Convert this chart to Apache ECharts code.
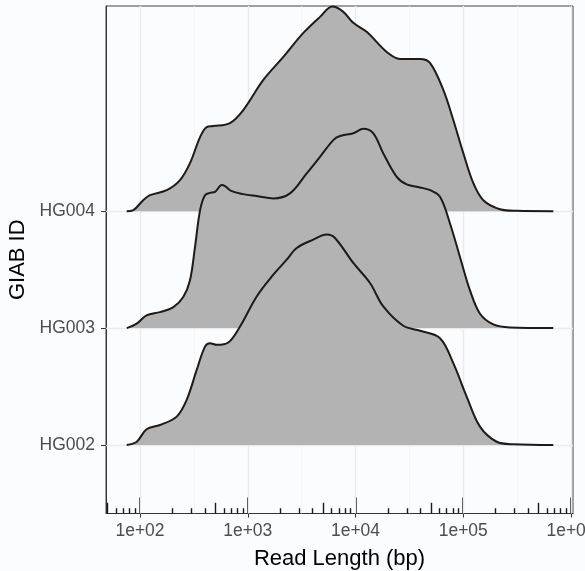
<!DOCTYPE html>
<html>
<head>
<meta charset="utf-8">
<script src="https://cdn.jsdelivr.net/npm/echarts@6/dist/echarts.min.js"></script>
<style>
  html, body { margin: 0; padding: 0; background: #fbfcfe; }
  #chart { width: 585px; height: 571px; }
</style>
</head>
<body>
<div id="chart"></div>
<script>
// Samples, bottom to top
const samples = ['HG002', 'HG003', 'HG004'];

// Read-length density per sample: read length (bp) and ridge height (in row units)
const lenHG002 = [75.3, 93.2, 115, 153, 219, 271, 336, 401, 446, 515, 660, 848, 1211, 1727, 2298, 2847, 4058, 5405, 6450, 9541, 13632, 18113, 27772, 39683, 60840, 80850, 107600, 143000, 204400, 291400, 685000];
const denHG002 = [0, 0.028, 0.135, 0.171, 0.243, 0.386, 0.643, 0.842, 0.871, 0.857, 0.877, 1.014, 1.271, 1.457, 1.585, 1.685, 1.757, 1.8, 1.771, 1.557, 1.386, 1.185, 1.02, 0.977, 0.914, 0.7, 0.414, 0.157, 0.028, 0.006, 0];

const lenHG003 = [75.3, 93.2, 115, 153, 204, 252, 291, 324, 361, 401, 446, 497, 573, 615, 710, 909, 1211, 1727, 2467, 3524, 4683, 6223, 7179, 9541, 11815, 14633, 18113, 24125, 29873, 39683, 49130, 60840, 75340, 93260, 115500, 143000, 190100, 271600, 685000];
const denHG003 = [0, 0.038, 0.109, 0.137, 0.18, 0.266, 0.409, 0.694, 1.009, 1.137, 1.157, 1.165, 1.223, 1.214, 1.171, 1.146, 1.129, 1.109, 1.152, 1.323, 1.465, 1.608, 1.643, 1.666, 1.705, 1.666, 1.494, 1.294, 1.229, 1.203, 1.18, 1.123, 0.895, 0.608, 0.323, 0.123, 0.032, 0.006, 0];

const lenHG004 = [75.3, 86.7, 107, 124, 177, 235, 291, 361, 416, 479, 684, 909, 1394, 2138, 3279, 4683, 6091, 7705, 9541, 12705, 19484, 25882, 39683, 49130, 65300, 80850, 100100, 124000, 153500, 219300, 313300, 685000];
const denHG004 = [0, 0.009, 0.094, 0.137, 0.18, 0.266, 0.411, 0.634, 0.72, 0.728, 0.754, 0.865, 1.123, 1.32, 1.525, 1.662, 1.75, 1.705, 1.611, 1.534, 1.362, 1.302, 1.302, 1.268, 1.037, 0.78, 0.497, 0.24, 0.094, 0.017, 0.003, 0];

// Axis labels
const xBreaks = [100, 1000, 10000, 100000, 1000000];
const xBreakLabels = ['1e+02', '1e+03', '1e+04', '1e+05', '1e+06'];
const xRange = [48.35, 1043800];

const FONT = 'Liberation Sans, Arial, sans-serif';
const lg = Math.log10;
const xMin = lg(xRange[0]), xMax = lg(xRange[1]);
const yMin = 0.4144, yMax = 4.755;

// log ticks along the bottom: 10^k long, 5*10^k medium, the rest short
const longTicks = [], midTicks = [], shortTicks = [];
for (let k = 1; k <= 6; k++) {
  for (let m = 1; m <= 9; m++) {
    const v = lg(m * Math.pow(10, k));
    if (v < xMin - 1e-9 || v > xMax + 1e-9) continue;
    if (m === 1) longTicks.push(v);
    else if (m === 5) midTicks.push(v);
    else shortTicks.push(v);
  }
}
const majorGrid = xBreaks.map(lg);
const minorGrid = [];
for (let i = 0; i < majorGrid.length; i++) {
  const v = majorGrid[i] - 0.5;
  if (v > xMin) minorGrid.push(v);
}

function tickAxis(values, len, width) {
  return {
    type: 'value', gridIndex: 0, position: 'bottom', min: xMin, max: xMax,
    axisLine: { show: false },
    axisTick: { show: true, inside: true, length: len, customValues: values,
                lineStyle: { color: '#1a1a1a', width: width } },
    axisLabel: { show: false },
    splitLine: { show: false }
  };
}

const ridgeData = {
  HG002: [lenHG002, denHG002],
  HG003: [lenHG003, denHG003],
  HG004: [lenHG004, denHG004]
};

// upper rows first so lower ridges overlap them
const ridgeSeries = samples.slice().reverse().map(name => {
  const base = samples.indexOf(name) + 1;
  const [lens, dens] = ridgeData[name];
  return {
    name: name,
    type: 'line',
    xAxisIndex: 0,
    yAxisIndex: 0,
    data: lens.map((L, j) => [lg(L), base + dens[j]]),
    smooth: 0.35,
    symbol: 'none',
    z: 3,
    lineStyle: { color: '#1e1a18', width: 2 },
    areaStyle: { color: '#b3b3b3', opacity: 1, origin: base },
    animation: false
  };
});

// panel grid lines, kept beneath the ridges
const gridLines = {
  type: 'line', data: [], z: 1, silent: true, animation: false,
  markLine: {
    z: 1, zlevel: 0,
    silent: true, animation: false, symbol: ['none', 'none'],
    label: { show: false },
    lineStyle: { color: '#ebebeb', type: 'solid', width: 1.2 },
    data: [
      ...majorGrid.map(v => ({ xAxis: v, lineStyle: { color: '#ebebeb', width: 1.3, type: 'solid' } })),
      ...minorGrid.map(v => ({ xAxis: v, lineStyle: { color: '#f0f0f0', width: 0.7, type: 'solid' } })),
      ...samples.map((s, i) => ({ yAxis: i + 1, lineStyle: { color: '#ebebeb', width: 1.3, type: 'solid' } }))
    ]
  }
};

const chart = echarts.init(document.getElementById('chart'), null, { renderer: 'canvas' });
chart.setOption({
  backgroundColor: '#fbfcfe',
  animation: false,
  textStyle: { fontFamily: FONT },
  grid: {
    left: 106, right: 12, top: 6, bottom: 57.5,
    show: true, borderColor: '#444', borderWidth: 1, backgroundColor: 'transparent',
    containLabel: false, outerBoundsMode: 'none'
  },
  xAxis: [
    {
      type: 'value', gridIndex: 0, position: 'bottom', min: xMin, max: xMax,
      axisLine: { show: true, lineStyle: { color: '#333', width: 1 } },
      axisTick: { show: true, length: 4, customValues: majorGrid, lineStyle: { color: '#333' } },
      axisLabel: {
        customValues: majorGrid, margin: 9, fontSize: 17.5, color: '#4d4d4d', fontFamily: FONT,
        formatter: v => xBreakLabels[majorGrid.findIndex(m => Math.abs(m - v) < 1e-6)]
      },
      splitLine: { show: false },
      name: 'Read Length (bp)', nameLocation: 'middle', nameGap: 34,
      nameTextStyle: { fontSize: 22, color: '#000', fontFamily: FONT }
    },
    tickAxis(longTicks, 16, 1.6),
    tickAxis(midTicks, 10.7, 1.4),
    tickAxis(shortTicks, 5.3, 1.4)
  ],
  yAxis: {
    type: 'value', min: yMin, max: yMax,
    axisLine: { show: true, lineStyle: { color: '#333', width: 1 } },
    axisTick: { show: true, length: 5, customValues: [1, 2, 3], lineStyle: { color: '#333' } },
    axisLabel: {
      customValues: [1, 2, 3], margin: 11, fontSize: 17.5, color: '#4d4d4d', fontFamily: FONT,
      formatter: v => samples[Math.round(v) - 1]
    },
    splitLine: { show: false },
    name: 'GIAB ID', nameLocation: 'middle', nameGap: 74,
    nameTextStyle: { fontSize: 22, color: '#000', fontFamily: FONT }
  },
  series: [gridLines, ...ridgeSeries]
});
</script>
</body>
</html>
